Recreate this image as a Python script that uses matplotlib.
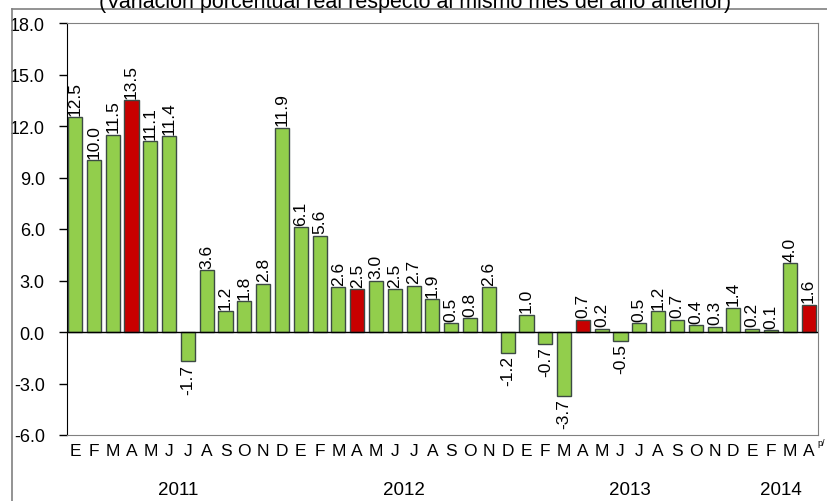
import numpy as np
import matplotlib
matplotlib.use("Agg")
import matplotlib.pyplot as plt
from matplotlib.lines import Line2D

plt.rcParams['font.family'] = ['Liberation Sans', 'DejaVu Sans']

# datos: variación porcentual real anual, ene-2011 a abr-2014
meses = list("EFMAMJJASOND") * 3 + list("EFMA")
valores = [12.5, 10.0, 11.5, 13.5, 11.1, 11.4, -1.7, 3.6, 1.2, 1.8, 2.8, 11.9,
           6.1, 5.6, 2.6, 2.5, 3.0, 2.5, 2.7, 1.9, 0.5, 0.8, 2.6, -1.2,
           1.0, -0.7, -3.7, 0.7, 0.2, -0.5, 0.5, 1.2, 0.7, 0.4, 0.3, 1.4,
           0.2, 0.1, 4.0, 1.6]
anios = ["2011", "2012", "2013", "2014"]
anio_centro = [5.5, 17.5, 29.5, 37.5]
destacados = [3, 15, 27, 39]  # meses de abril

verde = "#92CE4C"
rojo = "#C80000"
colores = [rojo if i in destacados else verde for i in range(len(valores))]

fig = plt.figure(figsize=(8.28, 5.02), dpi=100)
ax = fig.add_axes([67 / 828, 66 / 502, 751 / 828, 412 / 502])

x = np.arange(len(valores))
ax.bar(x, valores, width=0.75, color=colores, edgecolor="#3C4A44", linewidth=1.0, zorder=2)

for xi, v in zip(x, valores):
    if v >= 0:
        ax.text(xi, v + 0.15, f"{v:.1f}", rotation=90, ha="center", va="bottom", fontsize=12.5)
    else:
        ax.text(xi, v - 0.15, f"{v:.1f}", rotation=90, ha="center", va="top", fontsize=12.5)

ax.set_xlim(-0.43, 39.5)
ax.set_ylim(-6, 18)
ax.set_yticks(np.arange(-6, 18.1, 3))
ax.set_yticklabels([f"{t:.1f}" for t in np.arange(-6, 18.1, 3)], fontsize=13)
ax.tick_params(axis="y", length=6, width=1, direction="out", pad=10)
ax.set_xticks([])
ax.axhline(0, color="black", linewidth=1, zorder=3)

for s in ["top", "right", "bottom"]:
    ax.spines[s].set_color("#808080")
ax.spines["left"].set_color("black")

for xi, m in zip(x, meses):
    ax.text(xi, -6.9, m, ha="center", va="center", fontsize=12.5)
ax.text(39.45, -6.45, "p/", ha="left", va="center", fontsize=6.5)
for xc, a in zip(anio_centro, anios):
    ax.text(xc, -9.2, a, ha="center", va="center", fontsize=13.5)

fig.text(415 / 828, 1 - 8 / 502, "(Variación porcentual real respecto al mismo mes del año anterior)",
         ha="center", va="baseline", fontsize=15.5)

fig.add_artist(Line2D([12 / 828, 1], [1 - 10 / 502, 1 - 10 / 502], color="#808080", linewidth=1.2))
fig.add_artist(Line2D([12 / 828, 12 / 828], [0, 1 - 10 / 502], color="#808080", linewidth=1.2))

fig.savefig("out.png", dpi=100)
